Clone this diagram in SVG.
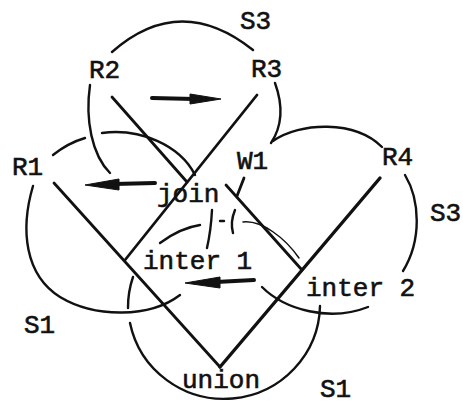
<svg xmlns="http://www.w3.org/2000/svg" width="463" height="405" viewBox="0 0 463 405">
<style>
text{font-family:"Liberation Mono","DejaVu Sans Mono",monospace;font-size:26px;fill:#111;stroke:#111;stroke-width:0.6}
.ln{stroke:#111;stroke-width:2.8;fill:none;stroke-linecap:round}
.ar{stroke:#111;stroke-width:2.4;fill:none;stroke-linecap:round}
.th{stroke:#111;stroke-width:1.5;fill:none;stroke-linecap:round}
.arrow{fill:#111;stroke:#111;stroke-width:1}
</style>
<rect width="463" height="405" fill="#fff"/>
<g id="connectors">
  <line class="ln" x1="112" y1="97" x2="187" y2="182"/>
  <line class="ln" x1="257" y1="95" x2="125" y2="260"/>
  <line class="ln" x1="54" y1="183" x2="220" y2="367"/>
  <line class="ln" x1="220" y1="367" x2="380" y2="178" style="stroke-width:3.4"/>
  <line class="ln" x1="226" y1="185" x2="302" y2="270"/>
  <line class="ln" x1="244" y1="178" x2="237" y2="196"/>
  <path class="ar" d="M112,52 Q180,-8 253,50"/>
  <path class="ar" d="M90,85 C85,120 92,155 110,173"/>
  <path class="ar" d="M275,83 C283,105 283,125 271,143"/>
  <path class="ar" d="M273,141 C300,122 355,120 382,147"/>
  <path class="ar" d="M405,175 C420,200 422,240 403,271"/>
  <path class="ar" d="M53,155 Q68,143 85,138"/>
  <path class="ar" d="M102,133 C140,128 180,145 195,175"/>
  <path class="ar" d="M33,186 C20,230 25,275 60,297 C95,318 150,318 180,295"/>
  <path class="ar" d="M133,277 A96,95 0 0,0 128,308 M130,323 A96,95 0 0,0 320,306"/>
  <path class="ar" d="M262,287 C285,310 330,322 368,307"/>
  <path class="ar" d="M160,243 Q180,228 200,225"/>
  <path class="ar" d="M212,210 Q211,230 207,248"/>
  <path class="ar" d="M235,210 Q230,222 233,233"/>
  <line class="ar" x1="220" y1="221" x2="224" y2="221"/>
  <path class="th" d="M243,222 C262,220 285,238 299,258"/>
  <g id="arrow-top">
    <line class="ln" x1="152" y1="98" x2="194" y2="99" style="stroke-width:4"/>
    <polygon class="arrow" points="190,94 221,99 190,104"/>
  </g>
  <g id="arrow-left">
    <line class="ln" x1="114" y1="184" x2="155" y2="183" style="stroke-width:4"/>
    <polygon class="arrow" points="85,185 119,179 119,190"/>
  </g>
  <g id="arrow-mid">
    <line class="ln" x1="216" y1="282" x2="254" y2="280" style="stroke-width:4"/>
    <polygon class="arrow" points="185,283 220,277 220,288"/>
  </g>
</g>
<g id="S3-top"><text x="240" y="29">S3</text></g>
<g id="R2"><text x="89" y="78">R2</text></g>
<g id="R3"><text x="251" y="77">R3</text></g>
<g id="R1"><text x="12" y="175">R1</text></g>
<g id="W1"><text x="237" y="169">W1</text></g>
<g id="R4"><text x="382" y="165">R4</text></g>
<g id="join"><text x="157" y="202">join</text></g>
<g id="S3-right"><text x="430" y="221">S3</text></g>
<g id="inter1"><text x="143" y="269">inter 1</text></g>
<g id="inter2"><text x="306" y="296">inter 2</text></g>
<g id="S1-left"><text x="24" y="333">S1</text></g>
<g id="union"><text x="182" y="388">union</text></g>
<g id="S1-bottom"><text x="320" y="397">S1</text></g>
</svg>
